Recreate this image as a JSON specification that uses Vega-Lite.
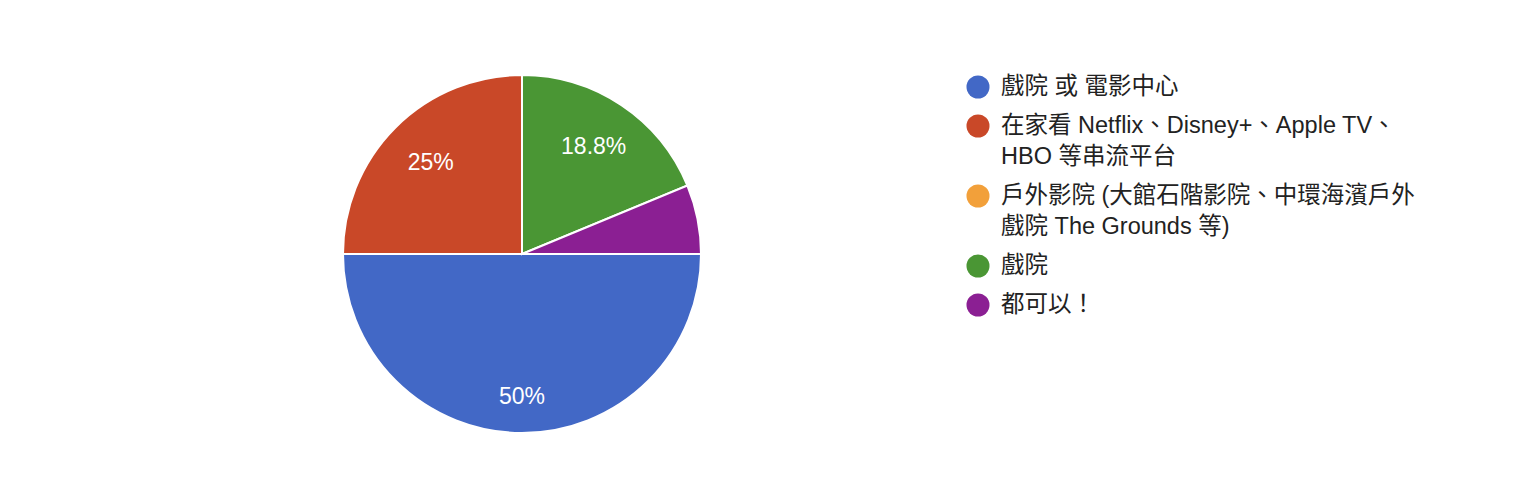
{
  "$schema": "https://vega.github.io/schema/vega-lite/v6.json",
  "width": 1044,
  "height": 488,
  "padding": {"left": 0, "top": 10, "right": 476, "bottom": 0},
  "autosize": {"type": "none"},
  "background": "white",
  "config": {
    "view": {"stroke": null},
    "style": {"guide-label": {"lineHeight": 31}}
  },
  "data": {
    "values": [
      {"option": "戲院 或 電影中心", "pct": 0.5, "rank": 1},
      {"option": "在家看 Netflix、Disney+、Apple TV、HBO 等串流平台", "pct": 0.25, "rank": 2},
      {"option": "戶外影院 (大館石階影院、中環海濱戶外戲院 The Grounds 等)", "pct": 0, "rank": 3},
      {"option": "戲院", "pct": 0.1875, "rank": 4},
      {"option": "都可以！", "pct": 0.0625, "rank": 5}
    ]
  },
  "encoding": {
    "theta": {"field": "pct", "type": "quantitative", "stack": true, "scale": {"range": [1.5707963, 7.8539816]}},
    "order": {"field": "rank", "type": "quantitative"}
  },
  "layer": [
    {
      "mark": {"type": "arc", "outerRadius": 179, "stroke": "white", "strokeWidth": 2},
      "encoding": {
        "color": {
          "field": "option",
          "type": "nominal",
          "sort": ["戲院 或 電影中心", "在家看 Netflix、Disney+、Apple TV、HBO 等串流平台", "戶外影院 (大館石階影院、中環海濱戶外戲院 The Grounds 等)", "戲院", "都可以！"],
          "scale": {
            "domain": ["戲院 或 電影中心", "在家看 Netflix、Disney+、Apple TV、HBO 等串流平台", "戶外影院 (大館石階影院、中環海濱戶外戲院 The Grounds 等)", "戲院", "都可以！"],
            "range": ["#4268c6", "#c94828", "#f2a03a", "#4a9634", "#8b1f93"]
          },
          "legend": {
            "title": null,
            "orient": "none",
            "legendX": 966,
            "legendY": 65,
            "symbolType": "circle",
            "symbolSize": 530,
            "symbolStrokeWidth": 0,
            "symbolOpacity": 1,
            "labelFont": "Liberation Sans, Noto Sans CJK TC, sans-serif",
            "labelFontSize": 23.5,
            "labelColor": "#222222",
            "labelOffset": 11,
            "labelLimit": 700,
            "rowPadding": 15,
            "labelExpr": "datum.label === '在家看 Netflix、Disney+、Apple TV、HBO 等串流平台' ? ['在家看 Netflix、Disney+、Apple TV、', 'HBO 等串流平台'] : datum.label === '戶外影院 (大館石階影院、中環海濱戶外戲院 The Grounds 等)' ? ['戶外影院 (大館石階影院、中環海濱戶外', '戲院 The Grounds 等)'] : datum.label"
          }
        }
      }
    },
    {
      "mark": {"type": "text", "radius": 129, "fill": "white", "fontSize": 23, "font": "Liberation Sans, sans-serif"},
      "encoding": {
        "text": {"condition": {"test": "datum.pct < 0.1 || datum.pct >= 0.4", "value": ""}, "field": "pct", "type": "quantitative", "format": ".1~%"}
      }
    },
    {
      "mark": {"type": "text", "radius": 143, "fill": "white", "fontSize": 23, "font": "Liberation Sans, sans-serif"},
      "encoding": {
        "text": {"condition": {"test": "datum.pct < 0.4", "value": ""}, "field": "pct", "type": "quantitative", "format": ".1~%"}
      }
    }
  ]
}
